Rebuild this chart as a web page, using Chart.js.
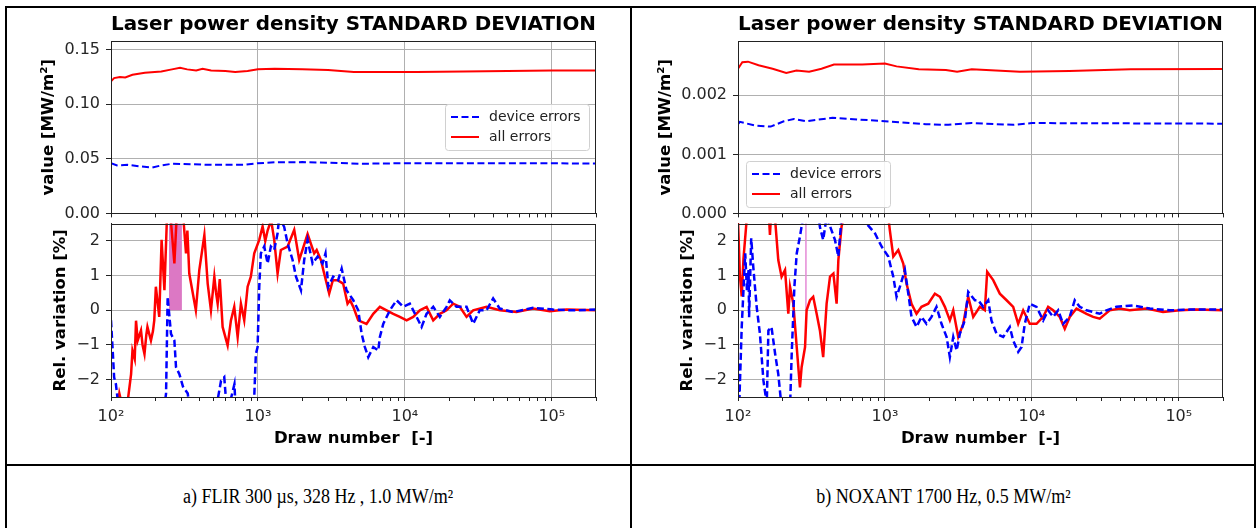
<!DOCTYPE html>
<html>
<head>
<meta charset="utf-8">
<title>Laser power density STANDARD DEVIATION</title>
<script src="https://cdn.jsdelivr.net/npm/chart.js@4.4.1/dist/chart.umd.min.js"></script>
<style>
  body { margin: 0; background: #fff; }
  #page { position: relative; width: 1258px; height: 528px; overflow: hidden; background: #fff; }
  canvas { position: absolute; }
  .rule { position: absolute; background: #000; }
  .caption { position: absolute; top: 466px; height: 62px; line-height: 60px; text-align: center;
             font-family: "Liberation Serif", serif; font-size: 20px; color: #000; }
  .caption span { display: inline-block; transform: scaleX(0.9); }
</style>
</head>
<body>
<div id="page">
  <div class="rule" style="left:5px;top:6px;width:1251px;height:2px"></div>
  <div class="rule" style="left:5px;top:6px;width:2px;height:522px"></div>
  <div class="rule" style="left:630px;top:6px;width:2px;height:522px"></div>
  <div class="rule" style="left:1254px;top:6px;width:2px;height:522px"></div>
  <div class="rule" style="left:5px;top:464px;width:1251px;height:2px"></div>

  <canvas id="botL" width="620" height="252" style="left:8px;top:208px"></canvas>
  <canvas id="botR" width="620" height="252" style="left:636px;top:208px"></canvas>
  <canvas id="topL" width="620" height="229" style="left:8px;top:0px"></canvas>
  <canvas id="topR" width="620" height="229" style="left:636px;top:0px"></canvas>

  <div class="caption" style="left:7px;width:623px"><span>a) FLIR 300 µs, 328 Hz , 1.0 MW/m²</span></div>
  <div class="caption" style="left:632px;width:622px"><span>b) NOXANT 1700 Hz, 0.5 MW/m²</span></div>
</div>

<script>
// ---- data ----
// x axis (draw number), shared by all four plots
const decades = [100, 1000, 10000, 100000];
const xMax = 200000;
const supDigits = { 2: '²', 3: '³', 4: '⁴', 5: '⁵' };

// top left (FLIR) : standard deviation [MW/m2]
const drawAllTopL = [100, 105, 115, 125, 140, 170, 220, 260, 295, 330, 380, 420, 480, 600, 700, 850, 1000, 1300, 2000, 3000, 4500, 7000, 12000, 25000, 50000, 100000, 200000];
const allTopL = [0.121, 0.124, 0.125, 0.1245, 0.127, 0.129, 0.130, 0.132, 0.1335, 0.132, 0.131, 0.1325, 0.131, 0.1305, 0.1295, 0.1305, 0.132, 0.1325, 0.132, 0.1315, 0.1295, 0.1295, 0.1295, 0.130, 0.1305, 0.131, 0.131];
const drawDevTopL = [100, 110, 130, 160, 190, 220, 260, 350, 500, 800, 1000, 1300, 2000, 3000, 5000, 10000, 30000, 200000];
const devTopL = [0.046, 0.044, 0.0445, 0.043, 0.042, 0.044, 0.0455, 0.045, 0.0445, 0.0445, 0.046, 0.0468, 0.047, 0.0465, 0.0455, 0.046, 0.046, 0.0458];
const yTicksTopL = [0, 0.05, 0.10, 0.15];
const yLabelsTopL = ['0.00', '0.05', '0.10', '0.15'];

// top right (NOXANT)
const drawAllTopR = [100, 107, 117, 138, 172, 213, 250, 305, 370, 450, 700, 1000, 1200, 1700, 2600, 3100, 3900, 8300, 18000, 47000, 200000];
const allTopR = [0.00245, 0.00256, 0.00257, 0.00251, 0.00245, 0.00238, 0.00242, 0.0024, 0.00245, 0.00252, 0.00252, 0.00254, 0.00249, 0.00244, 0.00243, 0.0024, 0.00244, 0.0024, 0.00241, 0.00244, 0.002446];
const drawDevTopR = [100, 103, 130, 167, 205, 240, 290, 440, 1000, 1900, 2700, 3900, 7500, 10000, 200000];
const devTopR = [0.00151, 0.00155, 0.00149, 0.00147, 0.00156, 0.0016, 0.00156, 0.00162, 0.00156, 0.00151, 0.0015, 0.00153, 0.0015, 0.00153, 0.00152];
const yTicksTopR = [0, 0.001, 0.002];
const yLabelsTopR = ['0.000', '0.001', '0.002'];

// bottom left : relative variation [%]
const drawAllBotL = [100, 110, 114, 120, 131, 137, 140, 145, 148, 152, 160, 164, 169, 174, 177, 187, 193, 197, 202, 213, 221, 231, 240, 251, 270, 282, 309, 324, 331, 341, 378, 399, 432, 455, 479, 505, 519, 532, 550, 575, 622, 655, 690, 728, 766, 807, 851, 895, 944, 1021, 1076, 1122, 1164, 1230, 1291, 1361, 1432, 1592, 1766, 1910, 2178, 2415, 2512, 2685, 2786, 3055, 3236, 3483, 3802, 4074, 4236, 4457, 4819, 5483, 6095, 6761, 7516, 8337, 9247, 10280, 11400, 12650, 14060, 15600, 17300, 19230, 21330, 23660, 26300, 29170, 35970, 44360, 57540, 74650, 97000, 125900, 200000];
const allBotL = [-3.0, -2.9, -2.4, -2.8, -2.5, -1.84, -1.16, -1.4, -0.3, -0.87, -0.58, -1.0, -1.26, -0.7, -0.48, -0.87, -0.6, -0.29, 0.68, -0.19, 2.03, 0.58, 2.6, 3.0, 1.35, 3.0, 2.8, 1.64, 2.3, 1.06, 0.0, 1.16, 2.17, 0.77, 0.0, 0.97, 0.5, 0.19, 0.9, -0.48, -1.01, -0.29, 0.1, -0.77, 0.19, -0.29, 0.68, 0.97, 1.64, 2.03, 2.42, 2.0, 2.3, 2.6, 2.03, 1.06, 1.74, 1.84, 2.32, 1.45, 2.2, 1.64, 1.74, 1.45, 1.16, 0.48, 0.87, 0.87, 0.77, 0.19, 0.29, 0.1, -0.29, -0.39, -0.1, 0.1, 0, -0.1, -0.19, -0.29, -0.19, 0, 0.1, -0.29, -0.1, 0, 0.19, 0.1, -0.19, 0, 0.1, 0, -0.05, 0.05, -0.03, 0.02, 0];
const drawDevBotL = [100, 103, 105, 108, 114, 158, 224, 237, 243, 256, 270, 277, 292, 309, 333, 347, 501, 561, 590, 617, 692, 708, 933, 944, 968, 995, 1021, 1047, 1104, 1164, 1225, 1291, 1361, 1396, 1510, 1592, 1722, 1816, 1963, 2065, 2178, 2355, 2547, 2754, 2884, 3013, 3251, 3516, 3715, 4009, 4457, 4819, 5082, 5346, 5636, 6095, 6592, 6761, 7129, 7907, 8790, 9750, 10810, 12020, 13000, 14060, 15600, 17300, 19230, 20230, 22490, 26300, 29170, 32360, 35970, 39900, 44260, 54580, 74650, 102000, 139600, 200000];
const devBotL = [-0.29, -1.26, -1.93, -2.13, -3.0, -3.5, -3.2, -2.4, 0.39, -0.68, -0.87, -1.64, -1.84, -2.2, -2.4, -3.0, -3.2, -2.03, -1.93, -3.0, -2.13, -3.0, -3.0, -2.5, -1.26, -1.06, 0.68, 1.64, 1.84, 1.35, 1.84, 1.74, 2.22, 2.7, 2.4, 1.93, 1.45, 0.97, 0.58, 1.45, 2.03, 1.35, 1.55, 1.35, 1.64, 0.68, 0.97, 0.87, 1.2, 0.58, 0.29, 0, -0.68, -1.06, -1.35, -1.06, -1.16, -0.77, -0.39, 0, 0.29, 0.1, 0.19, -0.19, -0.48, -0.1, 0.1, -0.19, 0.1, 0.29, 0.1, 0.1, -0.39, 0, 0, 0.34, 0.05, -0.05, 0.07, 0.02, 0, 0.02];
const shadeL = [248, 304];   // shaded draw-number band, left plot

// bottom right
const drawAllBotR = [100, 103, 106, 109, 115, 161, 165, 169, 179, 188, 198, 209, 220, 226, 238, 251, 264, 271, 286, 293, 309, 325, 343, 361, 380, 401, 423, 446, 469, 482, 507, 535, 771, 1054, 1081, 1140, 1233, 1333, 1403, 1517, 1641, 1774, 1972, 2188, 2366, 2559, 2767, 2917, 3155, 3412, 3690, 3990, 4426, 4786, 4966, 5458, 6053, 6730, 7464, 8072, 8730, 9682, 10760, 11940, 12910, 13960, 15490, 16750, 18110, 20140, 23550, 26120, 28970, 33880, 39630, 46350, 60250, 78160, 101600, 131800, 200000];
const allBotR = [2.6, 1.0, 0.4, 1.5, 2.7, 3.0, 2.17, 3.0, 2.6, 1.45, 0.97, 1.16, -0.1, 0.68, 0.19, -1.06, -2.22, -1.64, -1.06, 0, 0.29, 0.39, -0.1, -0.58, -1.35, 0.19, 0.97, 1.06, 0.19, 1.45, 2.42, 2.8, 3.2, 2.7, 2.3, 1.55, 1.74, 1.35, 0.77, 0.19, -0.1, 0.1, 0.19, 0.48, 0.39, 0.1, -0.29, 0, -0.77, -0.39, 0.39, -0.19, 0.1, 0, 1.11, 0.87, 0.48, 0.29, 0.1, -0.39, 0, -0.39, -0.39, -0.19, 0.1, 0, -0.19, -0.53, -0.19, 0.05, -0.1, -0.19, -0.24, 0, 0.05, 0, 0.05, -0.05, 0, 0.02, 0];
const drawDevBotR = [100, 102, 106, 112, 115, 118, 119, 123, 127, 134, 141, 149, 157, 161, 169, 179, 188, 198, 226, 232, 242, 251, 264, 278, 352, 361, 380, 401, 457, 482, 507, 731, 750, 855, 949, 1054, 1140, 1200, 1265, 1368, 1442, 1517, 1641, 1774, 1919, 2075, 2244, 2427, 2630, 2767, 2917, 3076, 3236, 3499, 3690, 4093, 4315, 4667, 5047, 5309, 5754, 6383, 7079, 7464, 8072, 8511, 8954, 9682, 10760, 11940, 12910, 13960, 15100, 16330, 18110, 19590, 21180, 23550, 26120, 28970, 32210, 37670, 48870, 63530, 86900, 118900, 200000];
const devBotR = [-1.55, -2.7, -0.48, 1.64, 0.58, 1.16, -0.2, 2.08, 1.26, 0.1, -0.68, -2.03, -2.7, -0.58, -0.48, -1.26, -1.84, -2.8, -2.8, -1.26, 0.68, 1.64, 2.13, 2.7, 2.8, 2.4, 2.03, 2.7, 2.03, 1.55, 2.7, 3.0, 2.5, 2.22, 1.84, 1.55, 0.97, 0.39, 0.68, 1.16, 0.48, -0.19, -0.48, -0.19, -0.39, -0.19, 0.1, -0.39, -0.77, -1.35, -0.77, -1.16, -0.68, -0.29, 0.53, 0.29, 0.29, 0.1, 0.29, -0.29, -0.68, -0.77, -0.48, -0.87, -1.2, -1.06, -0.39, 0.19, 0.1, -0.29, 0, -0.19, 0, -0.39, -0.19, 0.29, 0.1, 0, -0.05, -0.1, 0, 0.1, 0.14, 0.05, 0, 0.02, 0.02];
const markR = 290;           // thin marker line, right plot

const yTicksBot = [-2, -1, 0, 1, 2];
const yLabelsBot = ['−2', '−1', '0', '1', '2'];

// ---- helpers ----
Chart.defaults.font.family = 'DejaVu Sans';

function zip(xs, ys) {
    return xs.map(function (x, i) { return { x: x, y: ys[i] }; });
}

let xTicks = [];
decades.forEach(function (d) {
    for (let m = 1; m <= 9; m++) {
        if (d * m <= xMax) xTicks.push(d * m);
    }
});

// frame round the plot area (matplotlib spines)
const frame = {
    id: 'frame',
    afterDatasetsDraw(chart) {
        const a = chart.chartArea, ctx = chart.ctx;
        ctx.save();
        ctx.strokeStyle = '#222';
        ctx.lineWidth = 1;
        ctx.strokeRect(Math.round(a.left) + 0.5, Math.round(a.top) + 0.5,
            Math.round(a.right - a.left) - 1, Math.round(a.bottom - a.top));
        ctx.restore();
    }
};

// legend box inside the plot area
const boxLegend = {
    id: 'boxLegend',
    afterDraw(chart, args, opts) {
        if (!opts.loc) return;
        const ctx = chart.ctx, a = chart.chartArea;
        const items = chart.data.datasets.filter(function (d) { return d.label; });
        ctx.save();
        ctx.font = '14px "DejaVu Sans"';
        let tw = 0;
        items.forEach(function (d) { tw = Math.max(tw, ctx.measureText(d.label).width); });
        const w = Math.round(6 + 28 + 10 + tw + 8), h = 46;
        let x, y;
        if (opts.loc === 'center right') {
            x = Math.round(a.right - 7 - w);
            y = Math.round((a.top + a.bottom) / 2 - h / 2);
        } else {
            x = Math.round(a.left + 8);
            y = Math.round(a.bottom - 6 - h);
        }
        ctx.fillStyle = 'rgba(255,255,255,0.85)';
        ctx.strokeStyle = '#d0d0d0';
        ctx.lineWidth = 1;
        ctx.beginPath();
        ctx.roundRect(x + 0.5, y + 0.5, w, h, 3);
        ctx.fill();
        ctx.stroke();
        items.forEach(function (d, i) {
            const cy = y + 13 + i * 20;
            ctx.beginPath();
            ctx.setLineDash(d.borderDash || []);
            ctx.strokeStyle = d.borderColor;
            ctx.lineWidth = 2;
            ctx.moveTo(x + 6, cy);
            ctx.lineTo(x + 34, cy);
            ctx.stroke();
            ctx.setLineDash([]);
            ctx.fillStyle = '#222';
            ctx.textBaseline = 'middle';
            ctx.fillText(d.label, x + 44, cy);
        });
        ctx.restore();
    }
};
Chart.register(frame, boxLegend);

function decadeLabel(v) {
    if (decades.indexOf(v) < 0) return '';
    return '10' + supDigits[Math.round(Math.log10(v))];
}

function xScale(showLabels) {
    return {
        type: 'logarithmic',
        min: 100,
        max: xMax,
        afterBuildTicks: function (s) { s.ticks = xTicks.map(function (v) { return { value: v }; }); },
        afterFit: function (s) { s.height = showLabels ? 63 : 5; },
        grid: {
            color: function (c) { return c.tick && decades.indexOf(c.tick.value) >= 0 ? '#b0b0b0' : 'rgba(0,0,0,0)'; },
            tickColor: '#222',
            tickLength: 4
        },
        border: { color: '#222' },
        ticks: {
            display: showLabels,
            autoSkip: false,
            maxRotation: 0,
            padding: 6,
            color: '#262626',
            font: { size: 16 },
            callback: decadeLabel
        },
        title: {
            display: showLabels,
            text: 'Draw number  [-]',
            color: '#000',
            font: { size: 16.5, weight: 'bold' },
            padding: { top: 0, bottom: 11 }
        }
    };
}

function yScale(lo, hi, ticks, labels, title, titlePad, width) {
    return {
        min: lo,
        max: hi,
        afterBuildTicks: function (s) { s.ticks = ticks.map(function (v) { return { value: v }; }); },
        afterFit: function (s) { s.width = width; },
        grid: { color: '#b0b0b0', tickColor: '#222', tickLength: 5 },
        border: { color: '#222' },
        ticks: {
            padding: 6,
            color: '#262626',
            font: { size: 16 },
            callback: function (v, i) { return labels[i]; }
        },
        title: {
            display: true,
            text: title,
            color: '#000',
            font: { size: 16.5, weight: 'bold' },
            padding: { top: titlePad, bottom: 0 }
        }
    };
}

function topChart(id, devData, allData, yMax, ticks, labels, titlePad, width, legendLoc) {
    return new Chart(document.getElementById(id), {
        type: 'line',
        data: {
            datasets: [{
                label: 'device errors',
                data: devData,
                borderColor: '#0000ff',
                borderDash: [7, 3.5],
                borderWidth: 2,
                pointRadius: 0
            }, {
                label: 'all errors',
                data: allData,
                borderColor: '#ff0000',
                borderWidth: 2,
                pointRadius: 0
            }]
        },
        options: {
            responsive: false,
            animation: false,
            layout: { padding: { left: 0, right: width === 103 ? 32 : 33, top: 0, bottom: 0 } },
            scales: {
                x: xScale(false),
                y: yScale(0, yMax, ticks, labels, 'value [MW/m²]', titlePad, width)
            },
            plugins: {
                legend: { display: false },
                tooltip: { enabled: false },
                title: {
                    display: true,
                    fullSize: false,
                    text: 'Laser power density STANDARD DEVIATION',
                    color: '#000',
                    font: { size: 20, weight: 'bold' },
                    padding: { top: 13, bottom: 4 }
                },
                boxLegend: { loc: legendLoc }
            }
        }
    });
}

function bottomChart(id, devData, allData, extra, titlePad, width) {
    let sets = [{
        data: devData,
        borderColor: '#0000ff',
        borderDash: [7, 3.5],
        borderWidth: 2.5,
        pointRadius: 0,
        clip: 0,
        order: 1
    }, {
        data: allData,
        borderColor: '#ff0000',
        borderWidth: 2.5,
        pointRadius: 0,
        clip: 0,
        order: 2
    }];
    sets.push(extra);
    return new Chart(document.getElementById(id), {
        type: 'line',
        data: { datasets: sets },
        options: {
            responsive: false,
            animation: false,
            layout: { padding: { left: 0, right: width === 103 ? 32 : 33, top: 0, bottom: 0 } },
            scales: {
                x: xScale(true),
                y: yScale(-2.5, 2.5, yTicksBot, yLabelsBot, 'Rel. variation [%]', titlePad, width)
            },
            plugins: {
                legend: { display: false },
                tooltip: { enabled: false },
                title: { display: false },
                boxLegend: { loc: null }
            }
        }
    });
}

// ---- charts ----
topChart('topL', zip(drawDevTopL, devTopL), zip(drawAllTopL, allTopL), 0.158, yTicksTopL, yLabelsTopL, 31, 103, 'center right');
topChart('topR', zip(drawDevTopR, devTopR), zip(drawAllTopR, allTopR), 0.00292, yTicksTopR, yLabelsTopR, 20, 102, 'lower left');

bottomChart('botL', zip(drawDevBotL, devBotL), zip(drawAllBotL, allBotL), {
    data: [{ x: shadeL[0], y: 0 }, { x: shadeL[0], y: 3 }, { x: shadeL[1], y: 3 }, { x: shadeL[1], y: 0 }],
    borderWidth: 0,
    backgroundColor: '#dc78c4',
    fill: 'origin',
    pointRadius: 0,
    clip: 0,
    order: 3
}, 43, 103);

bottomChart('botR', zip(drawDevBotR, devBotR), zip(drawAllBotR, allBotR), {
    data: [{ x: markR, y: 0 }, { x: markR, y: 3 }],
    borderColor: '#e58ad6',
    borderWidth: 1.5,
    pointRadius: 0,
    clip: 0,
    order: 3
}, 42, 102);
</script>
</body>
</html>
